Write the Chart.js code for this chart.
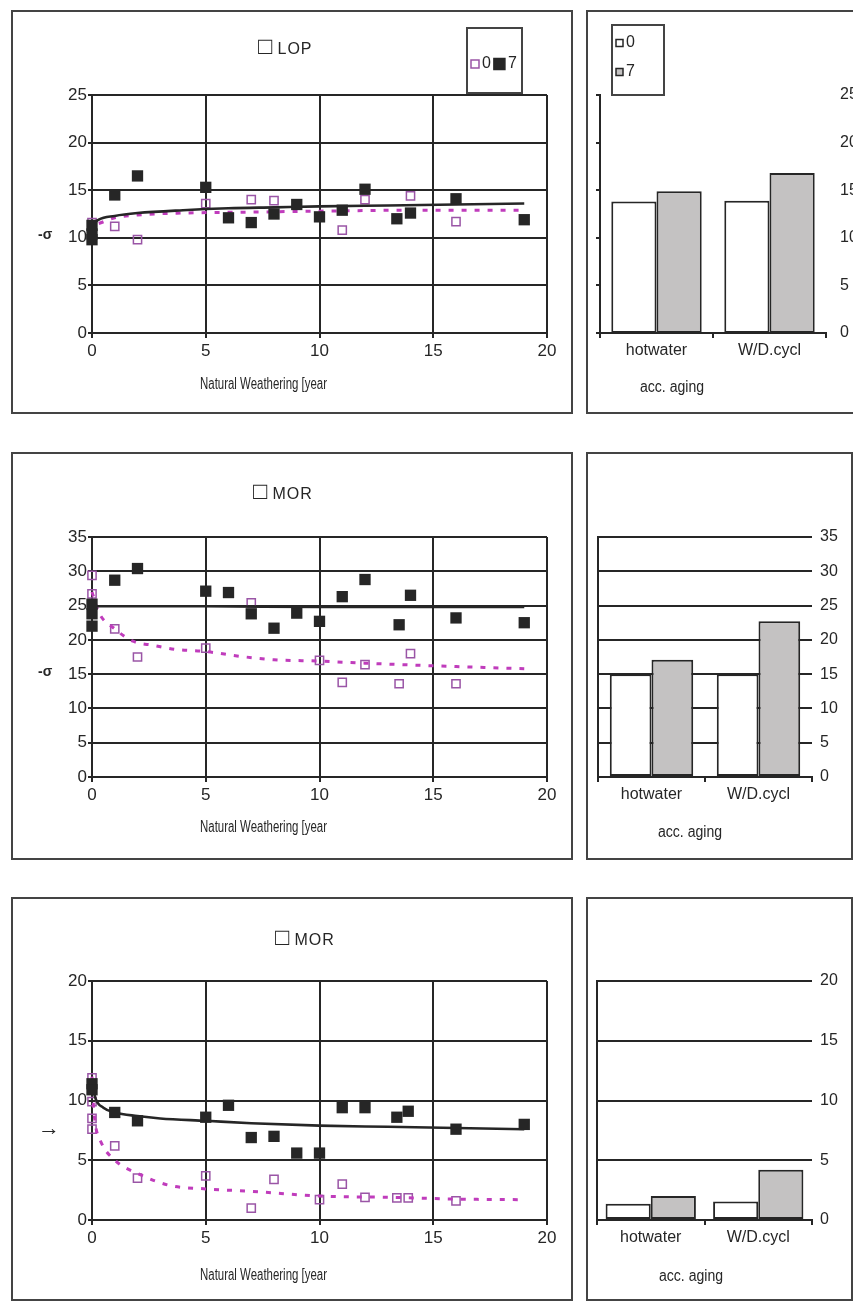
<!DOCTYPE html>
<html lang="en">
<head>
<meta charset="UTF-8">
<title>Weathering and accelerated aging</title>
<script src="https://cdn.jsdelivr.net/npm/chart.js"></script>
<style>
  html, body { margin: 0; padding: 0; background: #fff; }
  body { position: relative; width: 853px; height: 1303px; overflow: hidden; }
  .box { position: absolute; border: 2px solid #444; box-sizing: border-box; }
  canvas { position: absolute; }
</style>
</head>
<body>
<div class="box" style="left:11px;top:10px;width:562px;height:404px"></div>
<div class="box" style="left:586px;top:10px;width:300px;height:404px"></div>
<div class="box" style="left:11px;top:452px;width:562px;height:408px"></div>
<div class="box" style="left:586px;top:452px;width:267px;height:408px"></div>
<div class="box" style="left:11px;top:897px;width:562px;height:404px"></div>
<div class="box" style="left:586px;top:897px;width:267px;height:404px"></div>

<canvas id="lopYears" style="left:13px;top:12px" width="558" height="400"></canvas>
<canvas id="lopAging" style="left:588px;top:12px" width="290" height="400"></canvas>
<canvas id="morYears" style="left:13px;top:454px" width="558" height="404"></canvas>
<canvas id="morAging" style="left:588px;top:454px" width="263" height="404"></canvas>
<canvas id="morBYears" style="left:13px;top:899px" width="558" height="400"></canvas>
<canvas id="morBAging" style="left:588px;top:899px" width="263" height="400"></canvas>

<script>
// ---- data ----
const yearTicks = [0, 5, 10, 15, 20];
const agingCategories = ['hotwater', 'W/D.cycl'];

// LOP
const lopYears7 = [0, 0, 0, 1, 2, 5, 6, 7, 8, 9, 10, 11, 12, 13.4, 14, 16, 19];
const lopLevel7 = [9.8, 10.4, 11.3, 14.5, 16.5, 15.3, 12.1, 11.6, 12.5, 13.5, 12.2, 12.9, 15.1, 12.0, 12.6, 14.1, 11.9];
const lopYears0 = [0, 1, 2, 5, 7, 8, 11, 12, 14, 16];
const lopLevel0 = [11.6, 11.2, 9.8, 13.6, 14.0, 13.9, 10.8, 14.0, 14.4, 11.7];
const lopFitYears7 = [0, 0.1, 0.3, 1, 2, 4, 6, 8, 10, 13, 16, 19];
const lopFit7 = [10.2, 11.4, 11.9, 12.3, 12.6, 12.9, 13.1, 13.2, 13.3, 13.4, 13.5, 13.6];
const lopFitYears0 = [0.3, 1, 2, 4, 7, 10, 14, 19];
const lopFit0 = [11.5, 12.1, 12.4, 12.6, 12.7, 12.8, 12.9, 12.9];
const lopTicks = [0, 5, 10, 15, 20, 25];
const lopAged0 = [13.8, 13.9];
const lopAged7 = [14.9, 16.8];

// MOR
const morYears7 = [0, 0, 0, 1, 2, 5, 6, 7, 8, 9, 10, 11, 12, 13.5, 14, 16, 19];
const morLevel7 = [22.0, 23.8, 25.2, 28.7, 30.4, 27.1, 26.9, 23.8, 21.7, 23.9, 22.7, 26.3, 28.8, 22.2, 26.5, 23.2, 22.5];
const morYears0 = [0, 0, 1, 2, 5, 7, 10, 11, 12, 13.5, 14, 16];
const morLevel0 = [29.4, 26.7, 21.6, 17.5, 18.8, 25.4, 17.0, 13.8, 16.4, 13.6, 18.0, 13.6];
const morFitYears7 = [0, 2, 5, 10, 15, 19];
const morFit7 = [24.9, 24.9, 24.9, 24.8, 24.8, 24.8];
const morFitYears0 = [0, 0.3, 1, 1.8, 2.7, 3.7, 5, 6.5, 8, 10, 12, 13.5, 16, 19];
const morFit0 = [27.0, 24.0, 21.6, 19.8, 19.2, 18.6, 18.3, 17.6, 17.1, 16.9, 16.6, 16.4, 16.1, 15.8];
const morTicks = [0, 5, 10, 15, 20, 25, 30, 35];
const morAged0 = [15.0, 15.0];
const morAged7 = [17.1, 22.7];

// MOR, second set
const morBYears7 = [0, 0, 1, 2, 5, 6, 7, 8, 9, 10, 11, 12, 13.4, 13.9, 16, 19];
const morBLevel7 = [11.4, 10.9, 9.0, 8.3, 8.6, 9.6, 6.9, 7.0, 5.6, 5.6, 9.4, 9.4, 8.6, 9.1, 7.6, 8.0];
const morBYears0 = [0, 0, 0, 0, 1, 2, 5, 7, 8, 10, 11, 12, 13.4, 13.9, 16];
const morBLevel0 = [11.9, 9.9, 8.5, 7.6, 6.2, 3.5, 3.7, 1.0, 3.4, 1.7, 3.0, 1.9, 1.85, 1.85, 1.6];
const morBFitYears7 = [0, 0.15, 0.5, 1, 2, 3, 5, 7, 10, 13, 16, 19];
const morBFit7 = [11.6, 10.2, 9.4, 9.0, 8.7, 8.5, 8.3, 8.1, 7.9, 7.8, 7.7, 7.6];
const morBFitYears0 = [0, 0.05, 0.15, 0.4, 1, 2, 3.4, 5, 7, 10, 13, 16, 19];
const morBFit0 = [12.0, 10.0, 8.0, 6.5, 5.0, 3.9, 2.9, 2.6, 2.4, 2.0, 1.9, 1.75, 1.7];
const morBTicks = [0, 5, 10, 15, 20];
const morBAged0 = [1.35, 1.55];
const morBAged7 = [2.0, 4.2];

// ---- styles ----
const FONT = "'Liberation Sans', Arial, sans-serif";
const INK = '#262626';
const PURPLE = '#9a55a6';
const MAGENTA = '#c03cbc';
const GREY = '#c4c2c2';

const pts = (xs, ys) => xs.map((x, i) => ({ x: x, y: ys[i] }));
const fixTicks = list => s => { s.ticks = list.map(v => ({ value: v })); };

// titles, axis captions and the small side mark, placed around the chart area
const panelText = {
  id: 'panelText',
  afterDraw(chart, args, o) {
    const { ctx, chartArea: a } = chart;
    ctx.save();
    ctx.fillStyle = INK;
    ctx.textBaseline = 'middle';
    ctx.textAlign = 'left';
    if (o.title) {
      const x = a.left + o.titleDx, y = a.top - o.titleDy;
      ctx.font = '24px ' + FONT;
      ctx.fillText('\u25A1', x, y);
      const w = ctx.measureText('\u25A1').width;
      ctx.font = '16px ' + FONT;
      ctx.letterSpacing = '1px';
      ctx.fillText(o.title, x + w + o.titleGap, y + 3);
      ctx.letterSpacing = '0px';
    }
    if (o.xTitle) {
      ctx.font = o.xTitleSize + 'px ' + FONT;
      ctx.fillText(o.xTitle, a.left + o.xTitleDx, a.bottom + o.xTitleDy, o.xTitleW);
    }
    if (o.mark) {
      const y = chart.scales.y.getPixelForValue(o.markAt);
      ctx.font = 'bold ' + (o.markSize || 14) + 'px ' + FONT;
      ctx.fillText(o.mark, a.left - 54, y);
    }
    ctx.restore();
  }
};

// framed legend with the two sample series
const boxLegend = {
  id: 'boxLegend',
  afterDraw(chart, args, o) {
    if (!o.show) return;
    const { ctx, chartArea: a } = chart;
    const bx = (o.fromRight ? a.right : a.left) + o.dx, by = a.top + o.dy;
    ctx.save();
    ctx.fillStyle = '#fff';
    ctx.fillRect(bx, by, o.w, o.h);
    ctx.strokeStyle = '#444';
    ctx.lineWidth = 2;
    ctx.strokeRect(bx, by, o.w, o.h);
    ctx.font = '16px ' + FONT;
    ctx.textBaseline = 'middle';
    const items = chart.data.datasets.filter(d => d.inLegend)
      .sort((p, q) => p.label.localeCompare(q.label));
    let x = bx + 4, y = by + o.firstY;
    items.forEach(d => {
      const s = d.legendSize;
      ctx.fillStyle = d.legendFill;
      ctx.fillRect(x, y - s / 2, s, s);
      ctx.strokeStyle = d.legendStroke;
      ctx.lineWidth = 1.5;
      ctx.strokeRect(x, y - s / 2, s, s);
      ctx.fillStyle = INK;
      ctx.fillText(d.label, x + s + 3, y);
      if (o.row) {
        x += s + 5 + ctx.measureText(d.label).width + 1;
      } else {
        y += o.stepY;
      }
    });
    ctx.restore();
  }
};

Chart.register(panelText, boxLegend);

function yearsChart(id, p) {
  const tickFont = { family: FONT, size: 17 };
  return new Chart(document.getElementById(id), {
    type: 'scatter',
    data: {
      datasets: [
        { label: '7', data: pts(p.x7, p.y7), pointStyle: 'rect', pointRadius: 8,
          backgroundColor: INK, borderColor: INK, borderWidth: 0, clip: false,
          inLegend: true, legendSize: 11, legendFill: INK, legendStroke: INK },
        { type: 'line', label: 'fit 7', data: pts(p.fx7, p.fy7), borderColor: INK, borderWidth: 2.6,
          pointRadius: 0, cubicInterpolationMode: 'monotone', tension: 0.4, clip: false },
        { type: 'line', label: 'fit 0', data: pts(p.fx0, p.fy0), borderColor: MAGENTA, borderWidth: 3,
          borderDash: [5, 8], pointRadius: 0, cubicInterpolationMode: 'monotone', tension: 0.4, clip: false },
        { label: '0', data: pts(p.x0, p.y0), pointStyle: 'rect', pointRadius: 5.8,
          backgroundColor: 'rgba(255,255,255,0)', borderColor: PURPLE, borderWidth: 1.5, clip: false,
          inLegend: true, legendSize: 8, legendFill: '#fff', legendStroke: PURPLE }
      ]
    },
    options: {
      responsive: false,
      animation: false,
      devicePixelRatio: 1,
      layout: { padding: { top: p.top, right: 24, left: 0, bottom: 0 } },
      plugins: {
        legend: { display: false },
        tooltip: { enabled: false },
        panelText: {
          title: p.title, titleDx: p.titleDx, titleDy: p.titleDy, titleGap: 5,
          xTitle: 'Natural Weathering [year', xTitleSize: 16, xTitleDx: 108, xTitleDy: p.xTitleDy, xTitleW: 127,
          mark: p.mark, markAt: p.markAt, markSize: p.markSize
        },
        boxLegend: p.legend || { show: false }
      },
      scales: {
        x: {
          type: 'linear', min: 0, max: 20,
          afterBuildTicks: fixTicks(yearTicks),
          afterFit: s => { s.height = p.bottom; },
          ticks: { color: INK, font: tickFont, padding: 3, maxRotation: 0 },
          grid: { color: INK, lineWidth: 2, tickLength: 5 },
          border: { color: INK, width: 2 }
        },
        y: {
          min: 0, max: p.yTicks[p.yTicks.length - 1],
          afterBuildTicks: fixTicks(p.yTicks),
          afterFit: s => { s.width = 79; },
          ticks: { color: INK, font: tickFont, padding: 1 },
          grid: { color: INK, lineWidth: 2, tickLength: 4 },
          border: { color: INK, width: 2 }
        }
      }
    }
  });
}

function agingChart(id, p) {
  return new Chart(document.getElementById(id), {
    type: 'bar',
    data: {
      labels: agingCategories,
      datasets: [
        { label: '0', data: p.v0, backgroundColor: '#fff', borderColor: INK, borderWidth: 2, borderSkipped: false,
          inLegend: true, legendSize: 7, legendFill: '#fff', legendStroke: INK },
        { label: '7', data: p.v7, backgroundColor: GREY, borderColor: INK, borderWidth: 2, borderSkipped: false,
          inLegend: true, legendSize: 7, legendFill: GREY, legendStroke: INK }
      ]
    },
    options: {
      responsive: false,
      animation: false,
      devicePixelRatio: 1,
      datasets: { bar: { categoryPercentage: p.group, barPercentage: 1 } },
      layout: { padding: { top: p.top, right: 0, left: 0, bottom: 0 } },
      plugins: {
        legend: { display: false },
        tooltip: { enabled: false },
        panelText: { xTitle: 'acc. aging', xTitleSize: 16, xTitleDx: p.xTitleDx, xTitleDy: p.xTitleDy, xTitleW: 64 },
        boxLegend: p.legend || { show: false }
      },
      scales: {
        x: {
          afterFit: s => { s.height = p.bottom; },
          ticks: { color: INK, font: { family: FONT, size: 16 }, padding: 3, maxRotation: 0 },
          grid: { offset: true, drawOnChartArea: false, color: INK, lineWidth: 2, tickLength: 5 },
          border: { color: INK, width: 2 }
        },
        y: {
          position: 'right', min: 0, max: p.yTicks[p.yTicks.length - 1],
          afterBuildTicks: fixTicks(p.yTicks),
          afterFit: s => { s.width = p.right; },
          ticks: { color: INK, font: { family: FONT, size: 16 }, padding: p.labelPad },
          grid: { display: p.grid, drawTicks: false, color: INK, lineWidth: 2 },
          border: { display: false }
        },
        yL: {
          position: 'left', min: 0, max: p.yTicks[p.yTicks.length - 1],
          afterBuildTicks: fixTicks(p.yTicks),
          afterFit: s => { s.width = p.left; },
          ticks: { display: false },
          grid: { drawOnChartArea: false, drawTicks: p.leftTicks, tickLength: 4, color: INK, lineWidth: 2 },
          border: { color: INK, width: 2 }
        }
      }
    }
  });
}

yearsChart('lopYears', {
  x7: lopYears7, y7: lopLevel7, x0: lopYears0, y0: lopLevel0,
  fx7: lopFitYears7, fy7: lopFit7, fx0: lopFitYears0, fy0: lopFit0,
  yTicks: lopTicks, top: 83, bottom: 79,
  title: 'LOP', titleDx: 166, titleDy: 48, xTitleDy: 52,
  mark: '-\u03C3', markAt: 10.3,
  legend: { show: true, row: true, fromRight: true, dx: -80, dy: -67, w: 55, h: 65, firstY: 36 }
});
agingChart('lopAging', {
  v0: lopAged0, v7: lopAged7, yTicks: lopTicks, group: 0.8,
  top: 83, bottom: 79, left: 12, right: 52, labelPad: 14, grid: false, leftTicks: true,
  xTitleDx: 40, xTitleDy: 55,
  legend: { show: true, row: false, fromRight: false, dx: 12, dy: -70, w: 52, h: 70, firstY: 18, stepY: 29 }
});

yearsChart('morYears', {
  x7: morYears7, y7: morLevel7, x0: morYears0, y0: morLevel0,
  fx7: morFitYears7, fy7: morFit7, fx0: morFitYears0, fy0: morFit0,
  yTicks: morTicks, top: 83, bottom: 81,
  title: 'MOR', titleDx: 161, titleDy: 45, xTitleDy: 51,
  mark: '-\u03C3', markAt: 15.3
});
agingChart('morAging', {
  v0: morAged0, v7: morAged7, yTicks: morTicks, group: 0.78,
  top: 83, bottom: 81, left: 10, right: 39, labelPad: 8, grid: true, leftTicks: false,
  xTitleDx: 60, xTitleDy: 56
});

yearsChart('morBYears', {
  x7: morBYears7, y7: morBLevel7, x0: morBYears0, y0: morBLevel0,
  fx7: morBFitYears7, fy7: morBFit7, fx0: morBFitYears0, fy0: morBFit0,
  yTicks: morBTicks, top: 82, bottom: 79,
  title: 'MOR', titleDx: 183, titleDy: 43, xTitleDy: 56,
  mark: '\u2192', markAt: 7.6, markSize: 22
});
agingChart('morBAging', {
  v0: morBAged0, v7: morBAged7, yTicks: morBTicks, group: 0.84,
  top: 82, bottom: 79, left: 9, right: 39, labelPad: 8, grid: true, leftTicks: false,
  xTitleDx: 62, xTitleDy: 57
});
</script>
</body>
</html>
